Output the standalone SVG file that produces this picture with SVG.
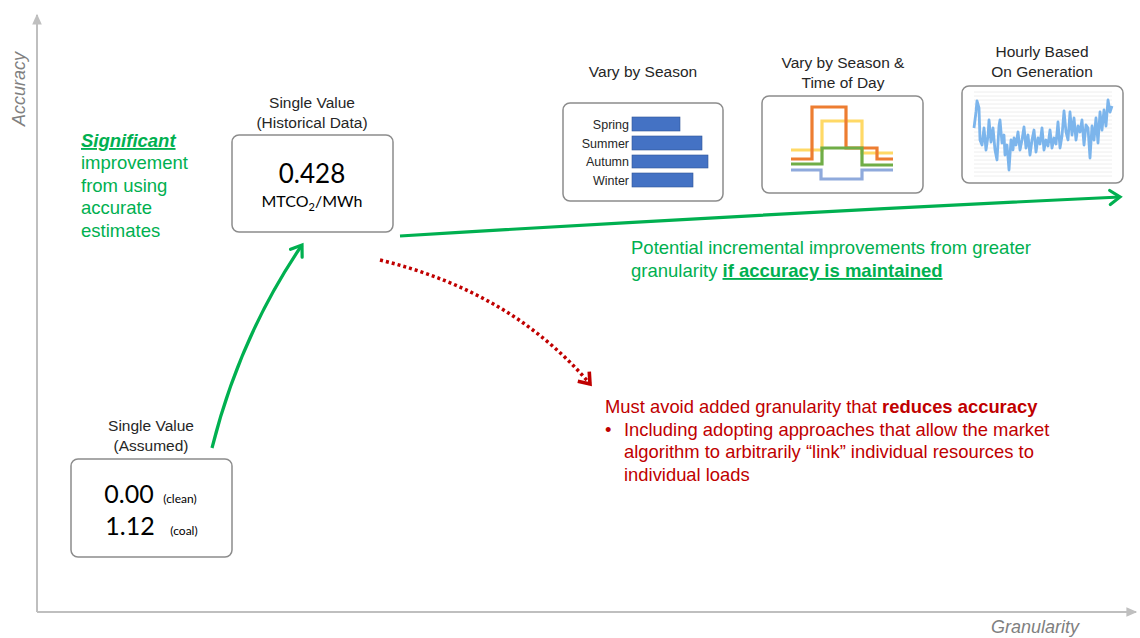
<svg xmlns="http://www.w3.org/2000/svg" width="1140" height="638" viewBox="0 0 1140 638">
<style>
.t{font-family:"Liberation Sans",Arial,sans-serif;fill:#262626}
.title{font-size:15.5px;text-anchor:middle}
.box{fill:#fff;stroke:#8c8c8c;stroke-width:1.5}
.num{font-family:Lato,"Open Sans",sans-serif;fill:#000;text-anchor:middle}
.axis{stroke:#bfbfbf;stroke-width:2;fill:none}
.axlab{font-family:"Liberation Sans",Arial,sans-serif;font-style:italic;font-size:18px;fill:#808080}
.green{fill:#00b050;font-family:"Liberation Sans",Arial,sans-serif;font-size:18.5px}
.red{fill:#c00000;font-family:"Liberation Sans",Arial,sans-serif;font-size:18.4px}
.lbl{font-family:"Liberation Sans",Arial,sans-serif;font-size:12.5px;fill:#262626;text-anchor:end}
.bar{fill:#4472c4;stroke:#2f5597;stroke-width:0.6}
.step{fill:none;stroke-width:3.2;stroke-linejoin:miter}
.grid{stroke:#eeeeee;stroke-width:1}
</style>
<defs>
<marker id="axArrow" markerUnits="userSpaceOnUse" markerWidth="12" markerHeight="12" refX="8" refY="5" orient="auto" viewBox="0 0 10 10">
<path d="M0,1 L9,5 L0,9 Z" fill="#bfbfbf"/>
</marker>
<marker id="gArrow" markerUnits="userSpaceOnUse" markerWidth="24" markerHeight="24" refX="12" refY="12" orient="auto" viewBox="0 0 24 24" overflow="visible">
<path d="M2,5 L12,12 L2,19" fill="none" stroke="#00b050" stroke-width="3.2" stroke-linecap="round" stroke-linejoin="miter"/>
</marker>
<marker id="rArrow" markerUnits="userSpaceOnUse" markerWidth="24" markerHeight="24" refX="12" refY="12" orient="auto" viewBox="0 0 24 24" overflow="visible">
<path d="M2,4.5 L12,12 L2,19.5" fill="none" stroke="#c00000" stroke-width="3.6" stroke-linejoin="miter"/>
</marker>
</defs>
<rect width="1140" height="638" fill="#fff"/>

<g id="axes">
<line class="axis" x1="37" y1="612" x2="37" y2="15" marker-end="url(#axArrow)"/>
<line class="axis" x1="37" y1="612" x2="1136" y2="612" marker-end="url(#axArrow)"/>
<text class="axlab" transform="translate(25,89) rotate(-90)" text-anchor="middle">Accuracy</text>
<text class="axlab" x="1035" y="633" text-anchor="middle">Granularity</text>
</g>

<g id="connectors">
<path d="M212,448 Q240,336 302,245" fill="none" stroke="#00b050" stroke-width="3.2" marker-end="url(#gArrow)"/>
<path d="M400,236 Q760,214 1120,197" fill="none" stroke="#00b050" stroke-width="3.2" marker-end="url(#gArrow)"/>
<path d="M380,260 Q512,292 590,384" fill="none" stroke="#c00000" stroke-width="3.5" stroke-dasharray="3,3" marker-end="url(#rArrow)"/>
</g>

<g id="note-significant">
<text class="green" x="81" y="147" font-weight="bold" font-style="italic" text-decoration="underline">Significant</text>
<text class="green" x="81" y="169">improvement</text>
<text class="green" x="81" y="191.5">from using</text>
<text class="green" x="81" y="214">accurate</text>
<text class="green" x="81" y="236.5">estimates</text>
</g>

<g id="node-assumed">
<text class="t title" x="151" y="431">Single Value</text>
<text class="t title" x="151" y="451">(Assumed)</text>
<rect class="box" x="71" y="459" width="161" height="98" rx="7"/>
<text class="num" x="129" y="503" font-size="25">0.00</text>
<text class="num" x="180" y="503" font-size="12">(clean)</text>
<text class="num" x="130" y="535" font-size="25">1.12</text>
<text class="num" x="184" y="535" font-size="12">(coal)</text>
</g>

<g id="node-historical">
<text class="t title" x="312" y="108">Single Value</text>
<text class="t title" x="312" y="128">(Historical Data)</text>
<rect class="box" x="232" y="135" width="161" height="97" rx="7"/>
<text class="num" x="312" y="183" font-size="26">0.428</text>
<text class="num" x="312" y="207" font-size="16">MTCO<tspan font-size="11" dy="4">2</tspan><tspan dy="-4">/MWh</tspan></text>
</g>

<g id="node-season">
<text class="t title" x="643" y="77">Vary by Season</text>
<rect class="box" x="563" y="103" width="160" height="98" rx="7"/>
<text class="lbl" x="629" y="129">Spring</text>
<text class="lbl" x="629" y="148">Summer</text>
<text class="lbl" x="629" y="166">Autumn</text>
<text class="lbl" x="629" y="185">Winter</text>
<rect class="bar" x="632" y="117" width="48" height="14"/>
<rect class="bar" x="632" y="136" width="70" height="14"/>
<rect class="bar" x="632" y="155" width="76" height="13"/>
<rect class="bar" x="632" y="173" width="61" height="14"/>
</g>

<g id="node-season-time">
<text class="t title" x="843" y="68">Vary by Season &amp;</text>
<text class="t title" x="843" y="88">Time of Day</text>
<rect class="box" x="762" y="96" width="161" height="97" rx="7"/>
<polyline class="step" stroke="#ffd966" points="791,150 822,150 822,121 862,121 862,153 893,153"/>
<polyline class="step" stroke="#ed7d31" points="791,159 812,159 812,107 846,107 846,148 877,148 877,159 893,159"/>
<polyline class="step" stroke="#70ad47" points="791,164 822,164 822,148 862,148 862,165 893,165"/>
<polyline class="step" stroke="#8faadc" points="791,170 821,170 821,179 862,179 862,170 893,170"/>
</g>

<g id="node-hourly">
<text class="t title" x="1042" y="57">Hourly Based</text>
<text class="t title" x="1042" y="77">On Generation</text>
<rect class="box" x="962" y="86" width="161" height="97" rx="7"/>
<g class="grid">
<line x1="974" y1="92" x2="1112" y2="92"/><line x1="974" y1="96" x2="1112" y2="96"/><line x1="974" y1="100" x2="1112" y2="100"/><line x1="974" y1="104" x2="1112" y2="104"/><line x1="974" y1="108" x2="1112" y2="108"/><line x1="974" y1="112" x2="1112" y2="112"/><line x1="974" y1="116" x2="1112" y2="116"/><line x1="974" y1="120" x2="1112" y2="120"/><line x1="974" y1="124" x2="1112" y2="124"/><line x1="974" y1="128" x2="1112" y2="128"/><line x1="974" y1="132" x2="1112" y2="132"/><line x1="974" y1="136" x2="1112" y2="136"/><line x1="974" y1="140" x2="1112" y2="140"/><line x1="974" y1="144" x2="1112" y2="144"/><line x1="974" y1="148" x2="1112" y2="148"/><line x1="974" y1="152" x2="1112" y2="152"/><line x1="974" y1="156" x2="1112" y2="156"/><line x1="974" y1="160" x2="1112" y2="160"/><line x1="974" y1="164" x2="1112" y2="164"/><line x1="974" y1="168" x2="1112" y2="168"/><line x1="974" y1="172" x2="1112" y2="172"/><line x1="974" y1="176" x2="1112" y2="176"/>
</g>
<polyline fill="none" stroke="#7cb5ec" stroke-width="2.8" stroke-linejoin="round" points="974,128 976,112 977,101 979,108 980,140 982,145 984,128 986,150 988,136 989,120 991,142 993,128 995,150 997,160 999,126 1000,120 1002,143 1004,135 1005,155 1007,145 1009,170 1011,140 1013,150 1014,138 1016,145 1018,132 1020,150 1022,140 1024,127 1026,148 1028,135 1030,155 1032,140 1034,130 1036,152 1038,138 1040,144 1042,128 1044,150 1046,140 1048,146 1050,130 1052,148 1054,138 1056,144 1058,122 1060,148 1062,136 1064,111 1066,132 1068,140 1070,112 1072,135 1074,118 1076,140 1078,126 1080,132 1082,120 1084,145 1086,125 1088,128 1090,158 1092,126 1094,140 1096,118 1098,143 1100,112 1102,130 1104,110 1106,126 1108,100 1110,112 1112,106"/>
</g>

<g id="note-potential">
<text class="green" font-size="17.6" x="631" y="254">Potential incremental improvements from greater</text>
<text class="green" font-size="17.6" x="631" y="277">granularity <tspan font-weight="bold" text-decoration="underline">if accuracy is maintained</tspan></text>
</g>

<g id="note-avoid">
<text class="red" x="605" y="413">Must avoid added granularity that <tspan font-weight="bold">reduces accuracy</tspan></text>
<text class="red" x="605" y="436">•</text>
<text class="red" x="624" y="436">Including adopting approaches that allow the market</text>
<text class="red" x="624" y="458">algorithm to arbitrarily “link” individual resources to</text>
<text class="red" x="624" y="481">individual loads</text>
</g>
</svg>
